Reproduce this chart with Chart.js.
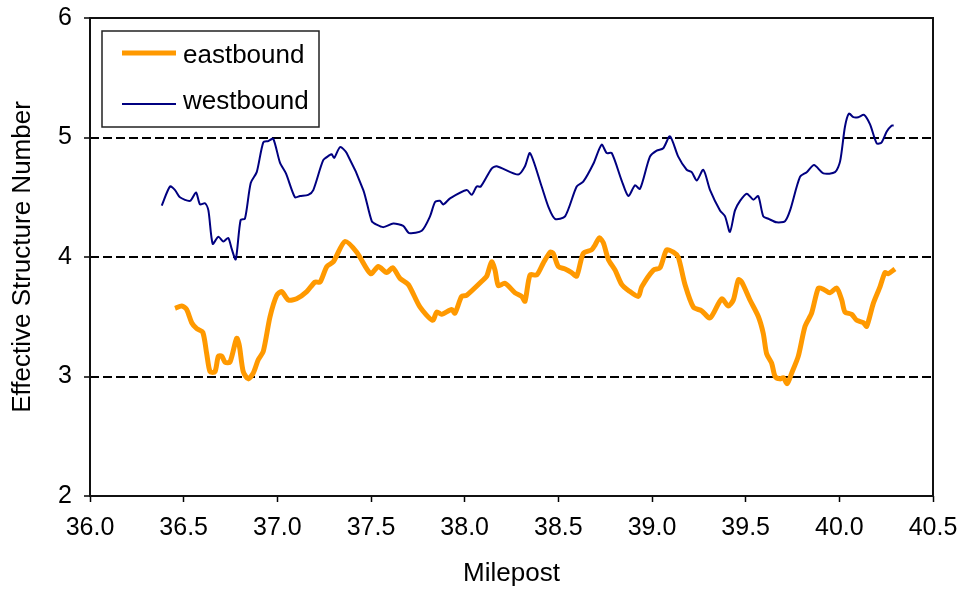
<!DOCTYPE html>
<html>
<head>
<meta charset="utf-8">
<script src="https://cdn.jsdelivr.net/npm/chart.js@4/dist/chart.umd.min.js"></script>
<style>
  html, body { margin: 0; padding: 0; background: #fff; }
  #wrap { width: 960px; height: 589px; }
</style>
</head>
<body>
<div id="wrap"><canvas id="snChart" width="960" height="589"></canvas></div>
<script>
// eastbound: milepost / effective SN
const eastMile = [36.454, 36.490, 36.516, 36.543, 36.570, 36.602, 36.623, 36.641, 36.667, 36.685,
  36.703, 36.721, 36.747, 36.783, 36.797, 36.818, 36.845, 36.872, 36.898, 36.925,
  36.961, 36.997, 37.023, 37.059, 37.103, 37.157, 37.201, 37.228, 37.264, 37.299,
  37.361, 37.424, 37.498, 37.539, 37.584, 37.616, 37.655, 37.699, 37.762, 37.829,
  37.851, 37.877, 37.931, 37.948, 37.984, 38.011, 38.100, 38.118, 38.144, 38.162,
  38.180, 38.215, 38.269, 38.304, 38.322, 38.349, 38.385, 38.420, 38.456, 38.473,
  38.500, 38.536, 38.571, 38.598, 38.633, 38.678, 38.696, 38.719, 38.740, 38.767,
  38.803, 38.838, 38.874, 38.927, 38.945, 39.007, 39.043, 39.078, 39.114, 39.140,
  39.176, 39.221, 39.265, 39.310, 39.372, 39.407, 39.434, 39.461, 39.479, 39.523,
  39.568, 39.594, 39.612, 39.639, 39.657, 39.683, 39.701, 39.722, 39.746, 39.781,
  39.817, 39.852, 39.888, 39.915, 39.950, 39.986, 40.013, 40.030, 40.066, 40.093,
  40.128, 40.146, 40.181, 40.217, 40.244, 40.261, 40.297];
const eastSN = [3.57, 3.59, 3.56, 3.45, 3.40, 3.37, 3.19, 3.04, 3.04, 3.17,
  3.17, 3.12, 3.12, 3.32, 3.26, 3.04, 2.98, 3.03, 3.14, 3.21,
  3.50, 3.68, 3.71, 3.64, 3.65, 3.71, 3.79, 3.79, 3.92, 3.96,
  4.13, 4.04, 3.86, 3.92, 3.87, 3.91, 3.82, 3.77, 3.58, 3.47,
  3.54, 3.52, 3.56, 3.53, 3.67, 3.68, 3.81, 3.84, 3.96, 3.89,
  3.76, 3.78, 3.70, 3.67, 3.63, 3.85, 3.85, 3.95, 4.04, 4.03,
  3.92, 3.90, 3.87, 3.84, 4.03, 4.06, 4.10, 4.16, 4.12, 3.98,
  3.89, 3.77, 3.72, 3.67, 3.75, 3.89, 3.91, 4.06, 4.04, 4.00,
  3.77, 3.58, 3.55, 3.49, 3.65, 3.59, 3.64, 3.81, 3.79, 3.64,
  3.50, 3.36, 3.19, 3.11, 3.00, 2.98, 2.99, 2.94, 3.03, 3.17,
  3.42, 3.53, 3.74, 3.73, 3.70, 3.74, 3.64, 3.54, 3.52, 3.47,
  3.45, 3.42, 3.61, 3.75, 3.87, 3.86, 3.90];

// westbound: milepost / effective SN
const westMile = [36.383, 36.427, 36.454, 36.480, 36.534, 36.566, 36.587, 36.614, 36.632, 36.655,
  36.685, 36.712, 36.738, 36.756, 36.778, 36.804, 36.827, 36.858, 36.890, 36.925,
  36.952, 36.978, 37.014, 37.046, 37.094, 37.121, 37.165, 37.192, 37.245, 37.277,
  37.290, 37.304, 37.335, 37.370, 37.459, 37.504, 37.530, 37.566, 37.619, 37.672,
  37.704, 37.771, 37.815, 37.842, 37.868, 37.886, 37.922, 38.011, 38.038, 38.064,
  38.086, 38.144, 38.171, 38.286, 38.322, 38.349, 38.411, 38.447, 38.482, 38.536,
  38.598, 38.633, 38.687, 38.731, 38.758, 38.785, 38.838, 38.874, 38.909, 38.936,
  38.989, 39.025, 39.060, 39.096, 39.140, 39.185, 39.212, 39.239, 39.274, 39.310,
  39.363, 39.390, 39.416, 39.443, 39.470, 39.506, 39.541, 39.567, 39.594, 39.621,
  39.666, 39.710, 39.737, 39.790, 39.826, 39.865, 39.915, 39.977, 40.004, 40.030,
  40.051, 40.075, 40.101, 40.132, 40.164, 40.200, 40.226, 40.253, 40.280, 40.290];
const westSN = [4.43, 4.59, 4.56, 4.50, 4.47, 4.54, 4.44, 4.45, 4.39, 4.11,
  4.17, 4.13, 4.16, 4.07, 3.98, 4.31, 4.32, 4.62, 4.71, 4.96,
  4.97, 4.99, 4.79, 4.70, 4.50, 4.51, 4.52, 4.56, 4.81, 4.85,
  4.86, 4.83, 4.92, 4.87, 4.56, 4.30, 4.27, 4.25, 4.28, 4.26,
  4.20, 4.22, 4.34, 4.46, 4.47, 4.44, 4.49, 4.56, 4.52, 4.59,
  4.59, 4.74, 4.76, 4.69, 4.76, 4.87, 4.59, 4.42, 4.32, 4.34,
  4.59, 4.63, 4.78, 4.94, 4.87, 4.87, 4.64, 4.51, 4.60, 4.57,
  4.84, 4.89, 4.91, 5.01, 4.84, 4.73, 4.71, 4.64, 4.73, 4.56,
  4.39, 4.34, 4.21, 4.39, 4.47, 4.53, 4.48, 4.51, 4.34, 4.32,
  4.29, 4.30, 4.39, 4.67, 4.71, 4.77, 4.70, 4.71, 4.80, 5.09,
  5.20, 5.17, 5.17, 5.19, 5.11, 4.95, 4.96, 5.05, 5.10, 5.10];

const xTicks = [36.0, 36.5, 37.0, 37.5, 38.0, 38.5, 39.0, 39.5, 40.0, 40.5];
const yTicks = [2, 3, 4, 5, 6];

const FONT = "'Liberation Sans', Arial, sans-serif";

function toPoints(xs, ys) {
  return xs.map((x, i) => ({ x: x, y: ys[i] }));
}

// black frame round the plot area
const framePlugin = {
  id: "frame",
  afterDatasetsDraw(chart) {
    const { ctx, chartArea: a } = chart;
    ctx.save();
    ctx.strokeStyle = "#111";
    ctx.lineWidth = 2;
    ctx.strokeRect(a.left, a.top, a.right - a.left, a.bottom - a.top);
    ctx.restore();
  }
};

// boxed legend in the upper left corner
const legendBox = {
  id: "legendBox",
  afterDraw(chart) {
    const ctx = chart.ctx;
    const rows = [{ y: 53, ty: 63 }, { y: 104, ty: 109 }];
    ctx.save();
    ctx.fillStyle = "#fff";
    ctx.fillRect(102, 31, 217, 96);
    ctx.strokeStyle = "#222";
    ctx.lineWidth = 1.5;
    ctx.strokeRect(102, 31, 217, 96);
    chart.data.datasets.forEach((ds, i) => {
      const r = rows[i];
      ctx.strokeStyle = ds.borderColor;
      ctx.lineWidth = ds.borderWidth;
      ctx.beginPath();
      ctx.moveTo(122, r.y);
      ctx.lineTo(176, r.y);
      ctx.stroke();
      ctx.fillStyle = "#000";
      ctx.font = "26px " + FONT;
      ctx.textBaseline = "alphabetic";
      ctx.fillText(ds.label, 183, r.ty);
    });
    ctx.restore();
  }
};

new Chart(document.getElementById("snChart"), {
  type: "scatter",
  data: {
    datasets: [
      {
        label: "eastbound",
        data: toPoints(eastMile, eastSN),
        showLine: true,
        borderColor: "#FF9900",
        borderWidth: 5,
        pointRadius: 0,
        tension: 0.25
      },
      {
        label: "westbound",
        data: toPoints(westMile, westSN),
        showLine: true,
        borderColor: "#000080",
        borderWidth: 2,
        pointRadius: 0,
        tension: 0.25
      }
    ]
  },
  options: {
    responsive: false,
    animation: false,
    layout: { padding: { top: 18, right: 27, left: 0, bottom: 0 } },
    plugins: { legend: { display: false }, tooltip: { enabled: false } },
    scales: {
      x: {
        type: "linear",
        min: 36,
        max: 40.5,
        afterFit: s => { s.height = 93; s.paddingLeft = 0; s.paddingRight = 0; },
        afterBuildTicks: s => { s.ticks = xTicks.map(v => ({ value: v })); },
        ticks: {
          color: "#000",
          font: { family: FONT, size: 25 },
          padding: 11,
          callback: v => v.toFixed(1)
        },
        grid: { drawOnChartArea: false, tickLength: 6, tickColor: "#000", tickWidth: 1.5 },
        border: { display: false },
        title: {
          display: true,
          text: "Milepost",
          color: "#000",
          font: { family: FONT, size: 26 },
          padding: { top: 0, bottom: 0 }
        }
      },
      y: {
        min: 2,
        max: 6,
        afterFit: s => { s.width = 90; s.paddingTop = 0; s.paddingBottom = 0; },
        afterBuildTicks: s => { s.ticks = yTicks.map(v => ({ value: v })); },
        ticks: {
          color: "#000",
          font: { family: FONT, size: 25 },
          padding: 12
        },
        grid: {
          color: c => (c.tick && (c.tick.value === 2 || c.tick.value === 6)) ? "rgba(0,0,0,0)" : "#000",
          lineWidth: 2,
          tickLength: 6,
          tickColor: "#000",
          tickWidth: 1.5
        },
        border: { display: false, dash: [9, 4] },
        title: {
          display: true,
          text: "Effective Structure Number",
          color: "#000",
          font: { family: FONT, size: 26 },
          padding: { top: 7, bottom: 0 }
        }
      }
    }
  },
  plugins: [framePlugin, legendBox]
});
</script>
</body>
</html>
